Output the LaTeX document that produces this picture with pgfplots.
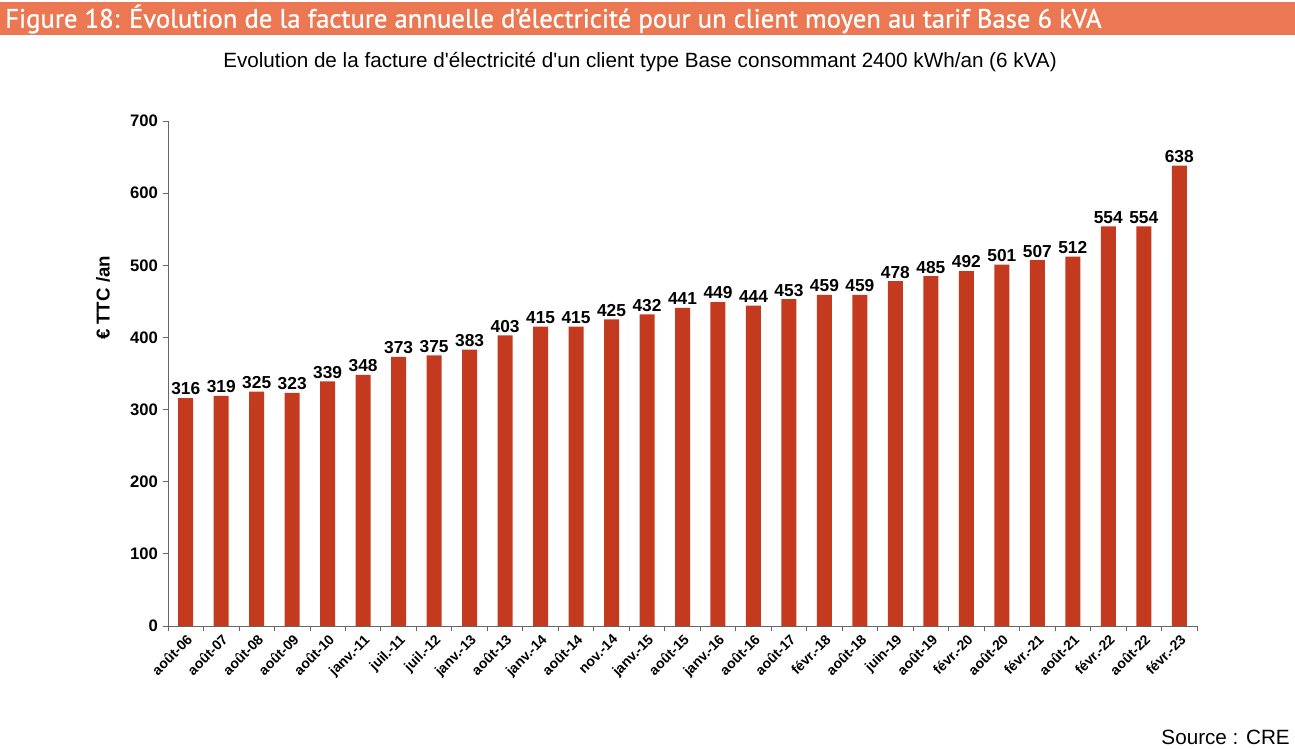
\documentclass[border=0pt]{standalone}
\usepackage{pgfplots}
\pgfplotsset{compat=1.18}
\usepackage{fontspec}
\setmainfont{Liberation Sans}
\newfontfamily\headfont{PT Sans}[FakeBold=0.9]
\newfontfamily\plainfont{Liberation Sans}[Ligatures=TeXOff]
\definecolor{headbg}{HTML}{EC7853}
\definecolor{barc}{HTML}{C43A1E}
\begin{document}
\begin{tikzpicture}[x=0.75pt,y=0.75pt]
\path[use as bounding box] (0,0) rectangle (1295,749);
\fill[headbg] (0,749-2) rectangle (1295,749-35);
\node[anchor=west,text=white,font=\headfont\fontsize{20}{22}\selectfont,inner sep=0pt] at (5,749-19) {Figure 18: Évolution de la facture annuelle d’électricité pour un client moyen au tarif Base 6 kVA};
\node[font=\plainfont\fontsize{15.5}{18}\selectfont,inner sep=0pt] at (640,749-62) {Evolution de la facture d'électricité d'un client type Base consommant 2400 kWh/an (6 kVA)};
\node[font=\fontsize{15.5}{18}\selectfont,anchor=east,inner sep=0pt] at (1290,749-737) {Source : CRE};
\node[font=\bfseries\fontsize{14}{16}\selectfont,rotate=90,inner sep=0pt] at (103,749-298) {€ TTC /an};
\begin{axis}[
  at={(126pt,92.25pt)}, anchor=south west,
  scale only axis, width=771.75pt, height=378.75pt,
  xmin=-0.5, xmax=28.5, ymin=0, ymax=700,
  ytick={0,100,...,700},
  xtick=data,
  xticklabels={août-06,août-07,août-08,août-09,août-10,janv.-11,juil.-11,juil.-12,janv.-13,août-13,janv.-14,août-14,nov.-14,janv.-15,août-15,janv.-16,août-16,août-17,févr.-18,août-18,juin-19,août-19,févr.-20,août-20,févr.-21,août-21,févr.-22,août-22,févr.-23},
  x tick label style={rotate=45,anchor=north east,font=\bfseries\fontsize{10.5}{12}\selectfont,inner sep=1pt},
  y tick label style={font=\bfseries\fontsize{12.5}{14}\selectfont},
  /pgf/number format/assume math mode=true,
  axis x line*=bottom, axis y line*=left,
  axis line style={gray!80!black},
  tick style={gray!80!black, line width=0.6pt},
  major tick length=4pt,
  xtick pos=bottom, ytick pos=left,
  tick align=outside,
  xtick style={draw=none},
  extra x ticks={-0.5,0.5,...,28.5}, extra x tick labels={},
  extra x tick style={xtick style={draw=gray!80!black, line width=0.6pt}, major tick length=4pt},
  clip=false,
]
\addplot[ybar, bar width=11.25pt, fill=barc, draw=none,
  nodes near coords,
  every node near coord/.append style={font=\bfseries\fontsize{13}{15}\selectfont, text=black, inner sep=2pt},
] coordinates {
(0,316) (1,319) (2,325) (3,323) (4,339) (5,348) (6,373) (7,375) (8,383) (9,403)
(10,415) (11,415) (12,425) (13,432) (14,441) (15,449) (16,444) (17,453) (18,459) (19,459)
(20,478) (21,485) (22,492) (23,501) (24,507) (25,512) (26,554) (27,554) (28,638)
};
\end{axis}
\end{tikzpicture}
\end{document}
